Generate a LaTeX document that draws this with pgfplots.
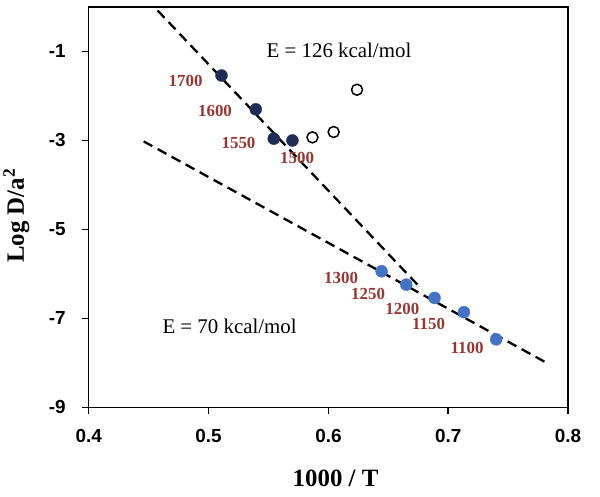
\documentclass[border=0pt]{standalone}
\usepackage{fontspec}
\setmainfont{Liberation Serif}
\setsansfont{Liberation Sans}
\usepackage{pgfplots}
\pgfplotsset{compat=1.18}
\usetikzlibrary{calc}
\definecolor{navy}{RGB}{31,45,85}
\definecolor{ptblue}{RGB}{68,114,196}
\definecolor{tred}{RGB}{149,55,53}
\begin{document}
\begin{tikzpicture}
\begin{axis}[
  name=ax,
  scale only axis, width=480bp, height=401bp,
  xmin=0.4, xmax=0.8, ymin=-9, ymax=0,
  xtick={0.4,0.5,0.6,0.7,0.8}, xticklabels={0.4,0.5,0.6,0.7,0.8},
  ytick={-9,-7,-5,-3,-1}, yticklabels={-9,-7,-5,-3,-1},
  tick align=outside, major tick length=7bp, tick pos=left,
  axis line style={line width=1.5bp},
  tick style={line width=1.5bp, black},
  ticklabel style={font=\sffamily\bfseries\fontsize{19}{19}\selectfont},
  yticklabel style={anchor=east, inner sep=0pt, xshift=-16bp},
  xticklabel style={anchor=north, inner sep=0pt, yshift=-15bp},
  xlabel={1000 / T},
  ylabel={Log D/a\textsuperscript{2}},
  every axis x label/.style={at={(axis description cs:0.515,0)}, anchor=base, yshift=-79bp, font=\bfseries\fontsize{25}{25}\selectfont},
  every axis y label/.style={at={(axis description cs:0,0.479)}, xshift=-65bp, rotate=90, anchor=base, font=\bfseries\fontsize{25}{25}\selectfont},
  clip=false,
]
% filled dark points (high T)
\addplot[only marks, mark=*, mark size=6bp, mark options={draw=navy, fill=navy}]
  coordinates {(0.5108,-1.54) (0.5394,-2.30) (0.5544,-2.96) (0.5700,-3.00)};
% open circles
\addplot[only marks, mark=o, mark size=5.5bp, mark options={draw=black, fill=white, line width=1.5bp}]
  coordinates {(0.5867,-2.93) (0.6044,-2.81) (0.6239,-1.86)};
% blue points (low T)
\addplot[only marks, mark=*, mark size=6bp, mark options={draw=ptblue, fill=ptblue}]
  coordinates {(0.6444,-5.94) (0.6650,-6.24) (0.6886,-6.54) (0.7131,-6.86) (0.7400,-7.47)};
% fit lines
\addplot[black, line width=2.3bp, dash pattern=on 10bp off 6bp]
  coordinates {(0.4575,-0.08) (0.6750,-6.26)};
\addplot[black, line width=2.3bp, dash pattern=on 10bp off 6bp]
  coordinates {(0.4458,-3.02) (0.7822,-8.00)};
% annotations
\node[anchor=base west, inner sep=0pt, font=\fontsize{21}{21}\selectfont] at (axis cs:0.5483,-1.128) {E = 126 kcal/mol};
\node[anchor=base west, inner sep=0pt, font=\fontsize{21}{21}\selectfont] at (axis cs:0.4614,-7.344) {E = 70 kcal/mol};
\begin{scope}[every node/.style={text=tred, font=\bfseries\fontsize{17}{17}\selectfont, inner sep=0pt}]
\node at (axis cs:0.4808,-1.659) {1700};
\node at (axis cs:0.5054,-2.337) {1600};
\node at (axis cs:0.5250,-3.052) {1550};
\node at (axis cs:0.5739,-3.389) {1500};
\node at (axis cs:0.6106,-6.085) {1300};
\node at (axis cs:0.6331,-6.461) {1250};
\node at (axis cs:0.6617,-6.798) {1200};
\node at (axis cs:0.6836,-7.135) {1150};
\node at (axis cs:0.7158,-7.658) {1100};
\end{scope}
\end{axis}
\path ($(ax.south west)+(-88bp,-89bp)$) rectangle ($(ax.north east)+(32bp,7bp)$);
\end{tikzpicture}
\end{document}
